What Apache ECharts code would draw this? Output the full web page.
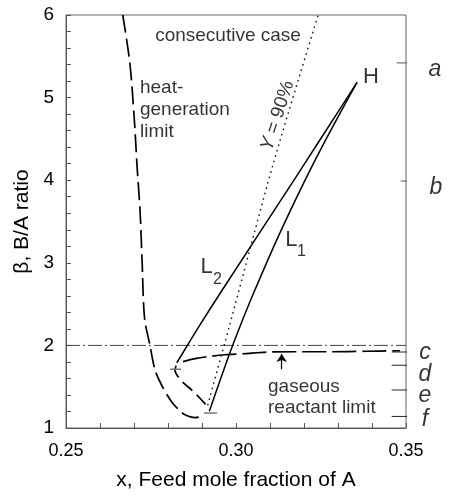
<!DOCTYPE html>
<html><head><meta charset="utf-8">
<script src="https://cdn.jsdelivr.net/npm/echarts@6/dist/echarts.min.js"></script>
<style>html,body{margin:0;padding:0;background:#fff}#c{width:450px;height:496px}</style>
</head><body><div id="c"></div>
<script>
// ---- data ----
const xTickLabels = ['0.25', '0.30', '0.35'];
const yTickLabels = ['1', '2', '3', '4', '5', '6'];

// heat-generation limit (outer long-dashed curve)
const heatLimitX = [0.2667, 0.2688, 0.2701, 0.2709, 0.2718, 0.2724, 0.2731, 0.2747, 0.2762, 0.2785, 0.2812, 0.2835, 0.2850, 0.2879, 0.2903];
const heatLimitY = [6.00, 5.41, 4.73, 4.17, 3.61, 3.00, 2.33, 2.00, 1.70, 1.49, 1.31, 1.21, 1.16, 1.126, 1.144];

// inner dashed curve (from L2 end to L1 end)
const innerX = [0.28235, 0.28206, 0.28294, 0.28471, 0.28706, 0.28941, 0.29235];
const innerY = [1.755, 1.695, 1.623, 1.540, 1.456, 1.360, 1.228];

// gaseous reactant limit
const gasX = [0.28441, 0.28794, 0.29147, 0.29676, 0.30206, 0.30941, 0.31882, 0.32765, 0.33794, 0.34824];
const gasY = [1.803, 1.839, 1.863, 1.887, 1.899, 1.920, 1.923, 1.923, 1.929, 1.935];

// L1 and L2 trajectories from H
const l1X = [0.33559, 0.32591, 0.31985, 0.31212, 0.30503, 0.30100, 0.29788, 0.29215];
const l1Y = [5.185, 4.453, 3.962, 3.290, 2.619, 2.211, 1.875, 1.204];
const l2X = [0.3356, 0.3241, 0.3172, 0.2950, 0.2888, 0.2826];
const l2Y = [5.185, 4.45, 4.01, 2.61, 2.21, 1.79];

// Y = 90% (dotted)
const y90X = [0.3241, 0.3109, 0.2979, 0.2915];
const y90Y = [5.99, 4.19, 2.21, 1.25];

// beta = 2 reference (dash-dot)
const refBeta = 2;

// right-side marks a..f
const markNames = ['a', 'b', 'c', 'd', 'e', 'f'];
const markBeta = [5.42, 3.99, 1.92, 1.76, 1.46, 1.14];
const markX0 = [0.34726, 0.34844, 0.34579, 0.34579, 0.34579, 0.34579];
const markX1 = [0.35462, 0.35609, 0.35315, 0.35315, 0.35315, 0.35315];

// short gray markers on curves
const tickMarkX0 = [0.28059, 0.29059];
const tickMarkX1 = [0.28382, 0.29441];
const tickMarkY = [1.711, 1.183];

// arrow to gaseous limit
const arrowX = 0.31344;
const arrowY0 = 1.711, arrowY1 = 1.895;

// ---- build ----
const FONT = 'Liberation Sans, Arial, Helvetica, sans-serif';
const zip = (xs, ys) => xs.map((x, i) => [x, ys[i]]);
const lineS = (data, style, extra) => Object.assign({
  type: 'line', data, showSymbol: false, symbol: 'none', silent: true,
  lineStyle: Object.assign({ color: '#000', width: 1.5 }, style), animation: false
}, extra || {});

const series = [];
series.push(lineS([[0.25, refBeta], [0.35, refBeta]], { color: '#444', width: 1, type: [14, 3, 2, 3] }));
series.push(lineS(zip(heatLimitX, heatLimitY), { type: [18, 6], width: 1.7 }, { smooth: 0.3 }));
series.push(lineS(zip(innerX, innerY), { type: [13, 6], width: 1.7 }, { smooth: 0.3 }));
series.push(lineS(zip(gasX, gasY), { type: [24, 6], width: 1.7 }, { smooth: 0.3 }));
series.push(lineS(zip(l1X, l1Y), { width: 1.5 }, { smooth: 0.3 }));
series.push(lineS(zip(l2X, l2Y), { width: 1.5 }, { smooth: 0.2 }));
series.push(lineS(zip(y90X, y90Y), { type: [1.6, 4], width: 1.4, color: '#111' }, { smooth: 0.3 }));
markNames.forEach((n, i) => {
  series.push(lineS([[markX0[i], markBeta[i]], [markX1[i], markBeta[i]]], { color: i < 2 ? '#555' : '#222', width: 1 }, { clip: false }));
});
tickMarkY.forEach((v, i) => {
  series.push(lineS([[tickMarkX0[i], v], [tickMarkX1[i], v]], { color: '#777', width: 1.5 }));
});
series.push({
  type: 'lines', coordinateSystem: 'cartesian2d', silent: true, animation: false,
  symbol: ['none', 'arrow'], symbolSize: [6, 8],
  lineStyle: { color: '#000', width: 1.2, opacity: 1 },
  data: [{ coords: [[arrowX, arrowY0], [arrowX, arrowY1]] }]
});

// text annotations (placed at data coordinates)
const texts = [
  { v: [0.29765, 5.75], t: 'consecutive case', s: { fontSize: 19 } },
  { v: [0.27176, 4.85], t: 'heat-\ngeneration\nlimit', s: { fontSize: 19, align: 'left', lineHeight: 22 } },
  { v: [0.30941, 1.37], t: 'gaseous\nreactant limit', s: { fontSize: 19, align: 'left', lineHeight: 21 } },
  { v: [0.33971, 5.245], t: 'H', s: { fontSize: 22 } },
  { v: [0.29138, 2.954], t: 'L', s: { fontSize: 22 } },
  { v: [0.29456, 2.80], t: '2', s: { fontSize: 16 } },
  { v: [0.31632, 3.272], t: 'L', s: { fontSize: 22 } },
  { v: [0.31926, 3.14], t: '1', s: { fontSize: 16 } },
  { v: [0.31225, 4.78], t: '{i|Y} = 90%', s: { fontSize: 19, rotate: 72, rich: { i: { fontStyle: 'italic', fontSize: 19, fontFamily: FONT, color: '#000' } } } }
];
const labelPos = [[0.35853, 5.34], [0.35882, 3.914], [0.35559, 1.911], [0.35559, 1.647], [0.35559, 1.396], [0.35559, 1.096]];
markNames.forEach((n, i) => texts.push({ v: labelPos[i], t: n, s: { fontSize: 23, fontStyle: 'italic' } }));

series.push({
  type: 'scatter', silent: true, animation: false, clip: false, symbolSize: 1,
  itemStyle: { color: 'rgba(0,0,0,0)' },
  data: texts.map(o => ({
    value: o.v,
    label: Object.assign({
      show: true, position: 'inside', formatter: o.t, color: '#000', fontFamily: FONT,
      align: 'center', verticalAlign: 'middle'
    }, o.s)
  }))
});

const chart = echarts.init(document.getElementById('c'), null, { renderer: 'canvas' });
chart.setOption({
  backgroundColor: '#fff',
  animation: false,
  grid: { left: 66, right: 44, top: 15, bottom: 65, show: true, borderColor: '#666', borderWidth: 1 },
  xAxis: {
    type: 'value', min: 0.25, max: 0.35, interval: 0.05,
    name: 'x, Feed mole fraction of A', nameLocation: 'middle', nameGap: 42,
    nameTextStyle: { fontSize: 21, color: '#000', fontFamily: FONT },
    axisLine: { show: true, lineStyle: { color: '#555', width: 1 } },
    axisTick: { show: true, inside: true, length: 5, lineStyle: { color: '#555' } },
    minorTick: { show: true, splitNumber: 5, length: 5, lineStyle: { color: '#555' } },
    splitLine: { show: false },
    axisLabel: {
      fontSize: 18, color: '#000', fontFamily: FONT, margin: 14,
      formatter: v => { const i = Math.round((v - 0.25) / 0.05); return xTickLabels[i] || ''; }
    }
  },
  yAxis: {
    type: 'value', min: 1, max: 6, interval: 1,
    name: 'β, B/A ratio', nameLocation: 'middle', nameGap: 30, nameRotate: 90,
    nameTextStyle: { fontSize: 21, color: '#000', fontFamily: FONT },
    axisLine: { show: true, lineStyle: { color: '#555', width: 1 } },
    axisTick: { show: true, inside: true, length: 5, lineStyle: { color: '#555' } },
    minorTick: { show: true, splitNumber: 5, length: 5, lineStyle: { color: '#555' } },
    splitLine: { show: false },
    axisLabel: {
      fontSize: 19, color: '#000', fontFamily: FONT, margin: 12,
      formatter: v => yTickLabels[Math.round(v) - 1] || ''
    }
  },
  series
});
</script>
</body></html>
